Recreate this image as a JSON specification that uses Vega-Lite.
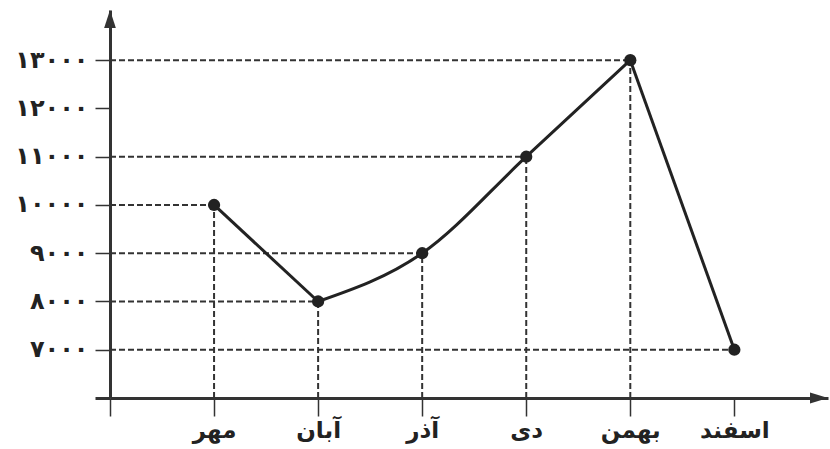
{
  "$schema": "https://vega.github.io/schema/vega-lite/v6.json",
  "width": 718,
  "height": 388,
  "autosize": {"type": "none"},
  "padding": {"left": 110, "top": 10, "right": 2, "bottom": 51},
  "background": "white",
  "config": {"view": {"stroke": null}, "font": "DejaVu Sans"},
  "data": {"values": [
    {"month": "مهر", "month_no": 7, "value": 10000},
    {"month": "آبان", "month_no": 8, "value": 8000},
    {"month": "آذر", "month_no": 9, "value": 9000},
    {"month": "دی", "month_no": 10, "value": 11000},
    {"month": "بهمن", "month_no": 11, "value": 13000},
    {"month": "اسفند", "month_no": 12, "value": 7000}
  ]},
  "encoding": {
    "x": {
      "field": "month_no", "type": "quantitative",
      "scale": {"domain": [6, 12.9], "nice": false, "zero": false},
      "axis": {
        "title": null, "grid": false,
        "values": [6, 7, 8, 9, 10, 11, 12],
        "labelExpr": "datum.value == 7 ? 'مهر' : datum.value == 8 ? 'آبان' : datum.value == 9 ? 'آذر' : datum.value == 10 ? 'دی' : datum.value == 11 ? 'بهمن' : datum.value == 12 ? 'اسفند' : ''",
        "domainWidth": 3, "domainColor": "#333",
        "tickSize": 18, "tickWidth": 1.5, "tickColor": "#333",
        "labelPadding": 3, "labelFlush": false, "labelOverlap": false,
        "labelFont": "DejaVu Sans", "labelFontWeight": "bold", "labelFontSize": 23, "labelColor": "#222"
      }
    },
    "y": {
      "field": "value", "type": "quantitative",
      "scale": {"domain": [6000, 14040], "nice": false, "zero": false},
      "axis": {
        "title": null, "grid": false,
        "values": [6000, 7000, 8000, 9000, 10000, 11000, 12000, 13000],
        "format": "d",
        "labelExpr": "datum.value == 6000 ? '' : replace(replace(replace(replace(replace(replace(replace(datum.label, regexp('0','g'), '۰'), regexp('1','g'), '۱'), regexp('2','g'), '۲'), regexp('3','g'), '۳'), regexp('7','g'), '۷'), regexp('8','g'), '۸'), regexp('9','g'), '۹')",
        "domainWidth": 3, "domainColor": "#333",
        "tickSize": 15,
        "tickWidth": {"condition": {"test": "datum.value == 6000", "value": 3}, "value": 1.5},
        "tickColor": "#333",
        "labelPadding": 7, "labelOverlap": false, "labelFlush": false,
        "labelFont": "DejaVu Sans", "labelFontWeight": "bold", "labelFontSize": 24, "labelColor": "#222"
      }
    }
  },
  "layer": [
    {
      "mark": {"type": "rule", "strokeDash": [6, 3], "strokeWidth": 2, "color": "#333"},
      "encoding": {
        "x": {"datum": 6, "type": "quantitative"},
        "x2": {"field": "month_no"}
      }
    },
    {
      "transform": [{"filter": "datum.month_no < 12"}],
      "mark": {"type": "rule", "strokeDash": [6, 3], "strokeWidth": 2, "color": "#333"},
      "encoding": {
        "y": {"datum": 6000, "type": "quantitative"},
        "y2": {"field": "value"}
      }
    },
    {
      "transform": [{"filter": "datum.month_no <= 8"}],
      "mark": {"type": "line", "strokeWidth": 3, "color": "#222", "interpolate": "linear"},
      "encoding": {}
    },
    {
      "transform": [{"filter": "datum.month_no >= 8 && datum.month_no <= 11"}],
      "mark": {"type": "line", "strokeWidth": 3, "color": "#222", "interpolate": "monotone"},
      "encoding": {}
    },
    {
      "transform": [{"filter": "datum.month_no >= 11"}],
      "mark": {"type": "line", "strokeWidth": 3, "color": "#222", "interpolate": "linear"},
      "encoding": {}
    },
    {
      "mark": {"type": "point", "filled": true, "size": 150, "color": "#222", "opacity": 1},
      "encoding": {}
    },
    {
      "data": {"values": [{"axis": "y", "tip_x": 6, "tip_y": 14040}]},
      "mark": {"type": "point", "filled": true, "size": 324, "fill": "#333", "color": "#333", "opacity": 1, "shape": "M0,0L0.65,2L-0.65,2Z"},
      "encoding": {
        "x": {"field": "tip_x", "type": "quantitative"},
        "y": {"field": "tip_y", "type": "quantitative"}
      }
    },
    {
      "data": {"values": [{"axis": "x", "tip_x": 12.9, "tip_y": 6000}]},
      "mark": {"type": "point", "filled": true, "size": 324, "fill": "#333", "color": "#333", "opacity": 1, "shape": "M0,0L-2,-0.6L-2,0.6Z"},
      "encoding": {
        "x": {"field": "tip_x", "type": "quantitative"},
        "y": {"field": "tip_y", "type": "quantitative"}
      }
    }
  ]
}
